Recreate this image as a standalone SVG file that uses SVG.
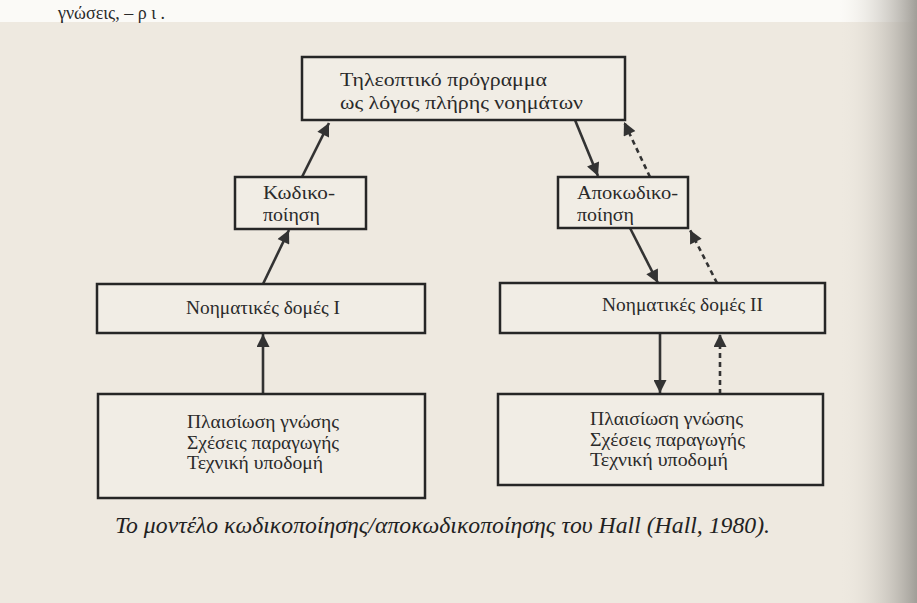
<svg xmlns="http://www.w3.org/2000/svg" width="917" height="603" viewBox="0 0 917 603">
<defs>
<linearGradient id="edge" x1="0" y1="0" x2="1" y2="0">
<stop offset="0" stop-color="#ece7de" stop-opacity="0"/>
<stop offset="1" stop-color="#a19e98"/>
</linearGradient>
<marker id="ah" viewBox="0 0 10 10" refX="10" refY="5" markerWidth="6" markerHeight="5" orient="auto" markerUnits="strokeWidth">
<path d="M0,0 L10,5 L0,10 Z" fill="#333"/>
</marker>
<style>
.box{fill:#f1ede5;stroke:#262626;stroke-width:2.5}
.t{font-family:"Liberation Serif","DejaVu Serif",serif;font-size:19px;fill:#2a2a2a}
.ln{stroke:#333;stroke-width:2.6;fill:none;marker-end:url(#ah)}
.dash{stroke-dasharray:5 4}
.cap{font-family:"Liberation Serif","DejaVu Serif",serif;font-size:23px;font-style:italic;fill:#222}
</style>
</defs>
<rect x="0" y="0" width="917" height="603" fill="#eee9e0"/>
<rect x="0" y="0" width="917" height="22" fill="#fbfaf7"/>
<rect x="840" y="0" width="77" height="603" fill="url(#edge)"/>
<text x="58" y="19" class="t" style="font-size:18px">γνώσεις, –  ρ  ι           .</text>

<g id="connectors">
<line class="ln" x1="302" y1="177" x2="329" y2="123"/>
<line class="ln" x1="263" y1="284" x2="289" y2="230"/>
<line class="ln" x1="263" y1="394" x2="263" y2="334"/>
<line class="ln" x1="575" y1="120" x2="598" y2="176"/>
<line class="ln dash" x1="650" y1="177" x2="624" y2="122"/>
<line class="ln" x1="630" y1="228" x2="658" y2="283"/>
<line class="ln dash" x1="717" y1="283" x2="690" y2="230"/>
<line class="ln" x1="660" y1="333" x2="660" y2="393"/>
<line class="ln dash" x1="720" y1="394" x2="720" y2="334"/>
</g>

<g id="tv">
<rect class="box" x="302" y="57" width="323" height="63"/>
<text class="t" x="340" y="86" textLength="207" lengthAdjust="spacingAndGlyphs">Τηλεοπτικό πρόγραμμα</text>
<text class="t" x="340" y="109" textLength="243" lengthAdjust="spacingAndGlyphs">ως λόγος πλήρης νοημάτων</text>
</g>
<g id="kodiko">
<rect class="box" x="235" y="177" width="131" height="52"/>
<text class="t" x="263" y="199" textLength="72" lengthAdjust="spacingAndGlyphs">Κωδικο-</text>
<text class="t" x="263" y="221" textLength="57" lengthAdjust="spacingAndGlyphs">ποίηση</text>
</g>
<g id="apokodiko">
<rect class="box" x="558" y="177" width="130" height="51"/>
<text class="t" x="577" y="199" textLength="101" lengthAdjust="spacingAndGlyphs">Αποκωδικο-</text>
<text class="t" x="577" y="221" textLength="57" lengthAdjust="spacingAndGlyphs">ποίηση</text>
</g>
<g id="nohm1">
<rect class="box" x="97" y="284" width="328" height="49"/>
<text class="t" x="186" y="314" textLength="154" lengthAdjust="spacingAndGlyphs">Νοηματικές δομές Ι</text>
</g>
<g id="nohm2">
<rect class="box" x="500" y="283" width="325" height="50"/>
<text class="t" x="602" y="311" textLength="161" lengthAdjust="spacingAndGlyphs">Νοηματικές δομές ΙΙ</text>
</g>
<g id="base1">
<rect class="box" x="98" y="394" width="327" height="104"/>
<text class="t" x="187" y="428" textLength="152" lengthAdjust="spacingAndGlyphs">Πλαισίωση γνώσης</text>
<text class="t" x="187" y="449" textLength="152" lengthAdjust="spacingAndGlyphs">Σχέσεις παραγωγής</text>
<text class="t" x="187" y="469" textLength="136" lengthAdjust="spacingAndGlyphs">Τεχνική υποδομή</text>
</g>
<g id="base2">
<rect class="box" x="498" y="394" width="325" height="91"/>
<text class="t" x="590" y="425" textLength="153" lengthAdjust="spacingAndGlyphs">Πλαισίωση γνώσης</text>
<text class="t" x="590" y="446" textLength="155" lengthAdjust="spacingAndGlyphs">Σχέσεις παραγωγής</text>
<text class="t" x="590" y="466" textLength="138" lengthAdjust="spacingAndGlyphs">Τεχνική υποδομή</text>
</g>
<text class="cap" x="115" y="533" textLength="655" lengthAdjust="spacingAndGlyphs">Το μοντέλο κωδικοποίησης/αποκωδικοποίησης του Hall (Hall, 1980).</text>
</svg>
